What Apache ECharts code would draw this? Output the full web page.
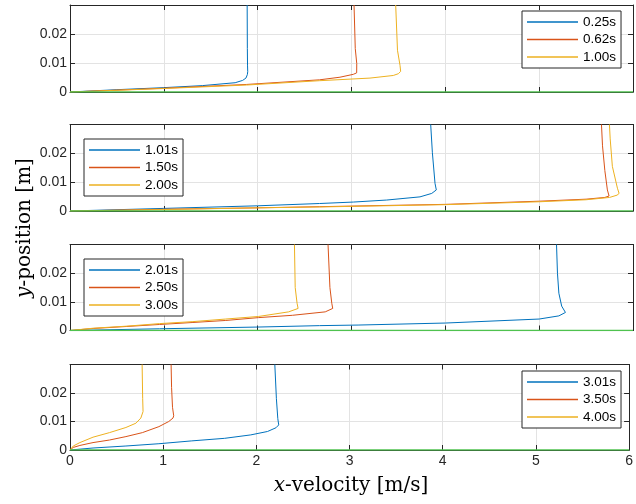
<!DOCTYPE html>
<html>
<head>
<meta charset="utf-8">
<script src="https://cdn.jsdelivr.net/npm/echarts@6/dist/echarts.min.js"></script>
<style>html,body{margin:0;padding:0;background:#fff;}#chart{width:636px;height:504px;}</style>
</head>
<body>
<div id="chart"></div>
<script>
// ---- data: [x-velocity (m/s), y-position (m)] ----
const p1_025 = [[0,0],[0.5,0.0008],[1,0.0015],[1.41,0.0022],[1.76,0.0032],[1.84,0.0040],[1.875,0.0048],[1.89,0.0060],[1.894,0.0070],[1.892,0.009],[1.89,0.015],[1.888,0.03]];
const p1_062 = [[0,0],[1,0.0013],[1.88,0.0026],[2.66,0.0042],[2.877,0.0051],[3.02,0.0061],[3.055,0.0066],[3.066,0.0070],[3.056,0.0098],[3.04,0.015],[3.027,0.03]];
const p1_100 = [[0,0],[1,0.0012],[1.88,0.0024],[2.66,0.0039],[3.197,0.0048],[3.445,0.0057],[3.499,0.0063],[3.524,0.0071],[3.517,0.0092],[3.49,0.0144],[3.471,0.03]];
const p2_101 = [[0,0],[1,0.0009],[2,0.0018],[2.66,0.0026],[3.02,0.0031],[3.375,0.0038],[3.73,0.0049],[3.855,0.0061],[3.904,0.0073],[3.89,0.0096],[3.862,0.0202],[3.844,0.03]];
const p2_150 = [[0,0],[1,0.0006],[2,0.0011],[2.66,0.0015],[4,0.0023],[5,0.0034],[5.5,0.0041],[5.7,0.0047],[5.745,0.0052],[5.727,0.0073],[5.70,0.014],[5.675,0.0226],[5.664,0.03]];
const p2_200 = [[0,0],[1,0.0005],[2,0.0011],[2.66,0.0014],[4,0.0022],[5,0.0032],[5.5,0.0039],[5.75,0.0047],[5.83,0.0055],[5.852,0.0061],[5.834,0.0079],[5.78,0.0155],[5.757,0.025],[5.749,0.03]];
const p3_201 = [[0,0],[0.954,0.0006],[2,0.0012],[2.66,0.0017],[3.07,0.0019],[4,0.0026],[5,0.0040],[5.21,0.0051],[5.28,0.0063],[5.24,0.0085],[5.21,0.013],[5.195,0.02],[5.185,0.03]];
const p3_250 = [[0,0],[0.247,0.0007],[0.6,0.0014],[0.954,0.0021],[1.31,0.0028],[1.66,0.0035],[2.01,0.0045],[2.37,0.0053],[2.72,0.0065],[2.80,0.0077],[2.79,0.0095],[2.77,0.015],[2.75,0.03]];
const p3_300 = [[0,0],[0.247,0.0008],[0.6,0.0015],[0.954,0.0024],[1.31,0.0031],[1.66,0.0040],[2.01,0.0049],[2.33,0.0065],[2.431,0.0077],[2.42,0.0095],[2.40,0.015],[2.392,0.03]];
const p4_301 = [[0,0],[0.247,0.0007],[0.6,0.0014],[0.954,0.0022],[1.307,0.0032],[1.66,0.0041],[1.94,0.0053],[2.12,0.0065],[2.21,0.0078],[2.24,0.0088],[2.23,0.011],[2.215,0.018],[2.198,0.03]];
const p4_350 = [[0,0],[0.035,0.0009],[0.106,0.0016],[0.247,0.0026],[0.424,0.0035],[0.6,0.0047],[0.777,0.0061],[0.954,0.0082],[1.06,0.0100],[1.105,0.0112],[1.113,0.0120],[1.10,0.015],[1.09,0.022],[1.085,0.03]];
const p4_400 = [[0,0],[0.035,0.0014],[0.106,0.0026],[0.247,0.0045],[0.424,0.0061],[0.6,0.0079],[0.707,0.0094],[0.76,0.0112],[0.784,0.0135],[0.78,0.018],[0.774,0.03]];
const wallLine = [[0,0],[6,0]];

const panelNames = [
  ['0.25s','0.62s','1.00s'],
  ['1.01s','1.50s','2.00s'],
  ['2.01s','2.50s','3.00s'],
  ['3.01s','3.50s','4.00s']
];
const panelData = [
  [p1_025, p1_062, p1_100],
  [p2_101, p2_150, p2_200],
  [p3_201, p3_250, p3_300],
  [p4_301, p4_350, p4_400]
];
const xMin = 0, xMax = 6, xStep = 1;
const yMin = 0, yMax = 0.03, yStep = 0.01;

// ---- styling / layout ----
const colors = ['#0072BD','#D95319','#EDB120'];
const wallColor = '#4fc24f';
const axisColor = '#262626';
const gridColor = '#e3e3e3';
const tickFont = 'Liberation Sans';
const labelFont = 'DejaVu Serif';
const grids = [
  {left:70, top:5, width:563, height:87},
  {left:70, top:124.5, width:563, height:86.5},
  {left:70, top:244.5, width:563, height:86},
  {left:70, top:364.5, width:563, height:85.5}
];
const legendPos = [
  {left:522, top:11},
  {left:84, top:139},
  {left:84, top:259},
  {left:522, top:371}
];

const xAxes = [], yAxes = [], series = [], legends = [];
grids.forEach((g, i) => {
  const last = i === grids.length - 1;
  xAxes.push({
    type:'value', gridIndex:i, min:xMin, max:xMax, interval:xStep, position:'bottom',
    axisLine:{show:true, onZero:false, lineStyle:{color:axisColor, width:1}},
    axisTick:{show:true, inside:true, length:5, lineStyle:{color:axisColor}},
    axisLabel:{show:last, color:axisColor, fontFamily:tickFont, fontSize:14, margin:4},
    splitLine:{show:true, lineStyle:{color:gridColor, width:1}}
  });
  yAxes.push({
    type:'value', gridIndex:i, min:yMin, max:yMax, interval:yStep, position:'left',
    axisLine:{show:true, onZero:false, lineStyle:{color:axisColor, width:1}},
    axisTick:{show:true, inside:true, length:5, lineStyle:{color:axisColor}},
    axisLabel:{show:true, color:axisColor, fontFamily:tickFont, fontSize:14, margin:3, showMaxLabel:false,
      formatter: v => v === 0 ? '0' : v.toFixed(2)},
    splitLine:{show:true, lineStyle:{color:gridColor, width:1}}
  });
});
grids.forEach((g, i) => {
  xAxes.push({
    type:'value', gridIndex:i, min:xMin, max:xMax, interval:xStep, position:'top',
    axisLine:{show:true, onZero:false, lineStyle:{color:axisColor, width:1}},
    axisTick:{show:true, inside:true, length:5, lineStyle:{color:axisColor}},
    axisLabel:{show:false}, splitLine:{show:false}
  });
  yAxes.push({
    type:'value', gridIndex:i, min:yMin, max:yMax, interval:yStep, position:'right',
    axisLine:{show:true, onZero:false, lineStyle:{color:axisColor, width:1}},
    axisTick:{show:true, inside:true, length:5, lineStyle:{color:axisColor}},
    axisLabel:{show:false}, splitLine:{show:false}
  });
});

panelData.forEach((curves, i) => {
  curves.forEach((d, k) => {
    series.push({
      name: panelNames[i][k], type:'line', xAxisIndex:i, yAxisIndex:i,
      data: d, showSymbol:false, symbol:'none', smooth:false, animation:false,
      lineStyle:{color:colors[k], width:1}, itemStyle:{color:colors[k]}, z:3
    });
  });
  series.push({
    name:'wall'+i, type:'line', xAxisIndex:i, yAxisIndex:i, data: wallLine,
    showSymbol:false, symbol:'none', animation:false,
    lineStyle:{color:wallColor, width:1.6}, z:4
  });
  legends.push({
    data: panelNames[i], orient:'vertical', left:legendPos[i].left, top:legendPos[i].top,
    icon:'rect', itemWidth:51, itemHeight:1.5, itemGap:3.5, itemTextGap:4,
    padding:[4,5,4,5], backgroundColor:'#fff', borderColor:axisColor, borderWidth:1,
    borderRadius:0, selectedMode:false,
    textStyle:{color:'#000', fontFamily:tickFont, fontSize:13.5, lineHeight:14}
  });
});

const chart = echarts.init(document.getElementById('chart'), null, {renderer:'canvas'});
chart.setOption({
  backgroundColor:'#fff',
  animation:false,
  grid: grids.map(g => Object.assign({containLabel:false}, g)),
  xAxis: xAxes,
  yAxis: yAxes,
  legend: legends,
  series: series,
  graphic: [
    {type:'text', x:351, y:486,
     style:{text:'{i|x}-velocity [m/s]', fill:'#000', font:'20px "' + labelFont + '"', align:'center', verticalAlign:'middle',
       rich:{i:{fontStyle:'italic', fontFamily:labelFont, fontSize:20}}}},
    {type:'text', x:25, y:228, rotation:Math.PI/2,
     style:{text:'{i|y}-position [m]', fill:'#000', font:'20px "' + labelFont + '"', align:'center', verticalAlign:'middle',
       rich:{i:{fontStyle:'italic', fontFamily:labelFont, fontSize:20}}}}
  ]
});
</script>
</body>
</html>
